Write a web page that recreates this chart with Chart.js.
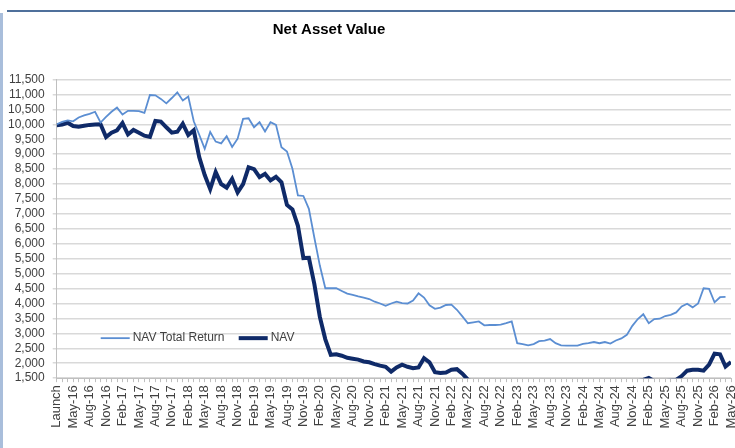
<!DOCTYPE html>
<html><head><meta charset="utf-8">
<script src="https://cdn.jsdelivr.net/npm/chart.js@4.4.0/dist/chart.umd.min.js"></script>
<style>
html,body{margin:0;padding:0;background:#fff;}
#wrap{position:relative;width:735px;height:448px;overflow:hidden;background:#fff;}
#c{position:absolute;left:0;top:0;}
.bt{position:absolute;left:7px;top:10px;width:728px;height:2px;background:#4f709b;}
.bl{position:absolute;left:0;top:13px;width:3px;height:435px;background:#a9bedb;}
</style></head>
<body><div id="wrap"><canvas id="c" width="735" height="448"></canvas><div class="bt"></div><div class="bl"></div></div>
<script>
const titleText = "Net Asset Value";
const months = [
"Launch","Mar-16","Apr-16","May-16","Jun-16","Jul-16","Aug-16","Sep-16","Oct-16","Nov-16","Dec-16",
"Jan-17","Feb-17","Mar-17","Apr-17","May-17","Jun-17","Jul-17","Aug-17","Sep-17","Oct-17","Nov-17","Dec-17",
"Jan-18","Feb-18","Mar-18","Apr-18","May-18","Jun-18","Jul-18","Aug-18","Sep-18","Oct-18","Nov-18","Dec-18",
"Jan-19","Feb-19","Mar-19","Apr-19","May-19","Jun-19","Jul-19","Aug-19","Sep-19","Oct-19","Nov-19","Dec-19",
"Jan-20","Feb-20","Mar-20","Apr-20","May-20","Jun-20","Jul-20","Aug-20","Sep-20","Oct-20","Nov-20","Dec-20",
"Jan-21","Feb-21","Mar-21","Apr-21","May-21","Jun-21","Jul-21","Aug-21","Sep-21","Oct-21","Nov-21","Dec-21",
"Jan-22","Feb-22","Mar-22","Apr-22","May-22","Jun-22","Jul-22","Aug-22","Sep-22","Oct-22","Nov-22","Dec-22",
"Jan-23","Feb-23","Mar-23","Apr-23","May-23","Jun-23","Jul-23","Aug-23","Sep-23","Oct-23","Nov-23","Dec-23",
"Jan-24","Feb-24","Mar-24","Apr-24","May-24","Jun-24","Jul-24","Aug-24","Sep-24","Oct-24","Nov-24","Dec-24",
"Jan-25","Feb-25","Mar-25","Apr-25","May-25","Jun-25","Jul-25","Aug-25","Sep-25","Oct-25","Nov-25","Dec-25",
"Jan-26","Feb-26","Mar-26","Apr-26","May-26"];
const tickLabels = ["Launch","May-16","Aug-16","Nov-16","Feb-17","May-17","Aug-17","Nov-17","Feb-18","May-18","Aug-18","Nov-18",
"Feb-19","May-19","Aug-19","Nov-19","Feb-20","May-20","Aug-20","Nov-20","Feb-21","May-21","Aug-21","Nov-21",
"Feb-22","May-22","Aug-22","Nov-22","Feb-23","May-23","Aug-23","Nov-23","Feb-24","May-24","Aug-24","Nov-24",
"Feb-25","May-25","Aug-25","Nov-25","Feb-26","May-26"];
const navTotalReturn = [
10000,10080,10130,10100,10230,10300,10350,10420,10060,10250,10420,
10560,10330,10450,10450,10440,10380,10980,10970,10850,10700,10880,11070,
10800,10930,10100,9650,9180,9740,9420,9360,9600,9240,9520,10180,
10200,9900,10070,9760,10070,9980,9230,9090,8510,7620,7600,7170,
6200,5270,4510,4510,4510,4420,4330,4290,4240,4200,4150,4060,
4000,3920,4000,4060,4010,4000,4100,4340,4200,3940,3820,3860,
3950,3960,3790,3570,3340,3370,3400,3270,3280,3280,3290,3340,
3400,2670,2640,2600,2640,2740,2760,2810,2670,2600,2590,2590,
2590,2650,2670,2710,2670,2710,2660,2760,2830,2950,3250,3480,
3640,3340,3480,3490,3580,3620,3700,3900,3990,3870,4000,4510,
4490,4040,4210,4220,null];
const nav = [
9970,9990,10050,9940,9920,9950,9980,9990,10000,9570,9720,
9800,10040,9660,9810,9720,9620,9580,10110,10090,9900,9720,9750,
10020,9640,9800,8900,8300,7830,8400,8000,7880,8170,7720,8000,
8560,8500,8230,8340,8120,8240,8060,7300,7150,6600,5520,5530,
4650,3550,2800,2280,2300,2250,2180,2150,2120,2060,2030,1970,
1920,1880,1720,1860,1950,1880,1830,1860,2170,2030,1700,1670,
1690,1780,1800,1650,1450,1350,1330,1300,1280,1270,1260,1280,
1300,1150,1130,1110,1130,1170,1190,1210,1150,1120,1110,1110,
1110,1140,1150,1170,1150,1170,1150,1210,1250,1300,1360,1400,
1440,1510,1400,1390,1400,1420,1440,1570,1750,1780,1780,1750,1950,
2320,2300,1890,2040,2040];

const FONT = "'Liberation Sans',Arial,sans-serif";

const overlay = {
  id:'overlay',
  afterDraw(chart){
    const ctx = chart.ctx, ca = chart.chartArea;
    ctx.save();
    ctx.fillStyle = '#000';
    ctx.font = "bold 15px " + FONT;
    ctx.textAlign = 'center'; ctx.textBaseline = 'middle';
    ctx.fillText(titleText, 329, 30);
    // legend inside the plot
    const ly = ca.bottom - 40;
    const offs = [44, 182];
    chart.data.datasets.forEach((ds, i) => {
      const x = ca.left + offs[i];
      ctx.strokeStyle = ds.borderColor; ctx.lineWidth = ds.borderWidth;
      ctx.beginPath(); ctx.moveTo(x, ly); ctx.lineTo(x + 29, ly); ctx.stroke();
      ctx.fillStyle = '#404040'; ctx.font = "12px " + FONT;
      ctx.textAlign = 'left';
      ctx.fillText(ds.label, x + 32, ly);
    });
    ctx.restore();
  }
};

new Chart(document.getElementById('c'), {
  type:'line',
  data:{
    labels: months,
    datasets:[
      {label:'NAV Total Return', data:navTotalReturn, borderColor:'#5b8ed2', borderWidth:1.8, pointRadius:0, tension:0, fill:false, clip:0},
      {label:'NAV', data:nav, borderColor:'#0f2a68', borderWidth:4, pointRadius:0, tension:0, fill:false, clip:0}
    ]
  },
  options:{
    responsive:false, animation:false, devicePixelRatio:1,
    layout:{padding:{left:0,right:4,top:79.5,bottom:16.5}},
    plugins:{legend:{display:false}, title:{display:false}, tooltip:{enabled:false}},
    scales:{
      x:{
        offset:false,
        afterFit:(s)=>{ s.paddingLeft = 0; s.paddingRight = 0; },
        grid:{drawOnChartArea:false, drawTicks:true, tickLength:4, color:'#bfbfbf'},
        border:{color:'#bfbfbf', width:1},
        ticks:{autoSkip:false, maxRotation:90, minRotation:90, padding:3, color:'#404040',
          font:{family:FONT, size:13},
          callback:function(v){ const l=this.getLabelForValue(v); return tickLabels.includes(l)? l : ''; }}
      },
      y:{
        min:1500, max:11500,
        grid:{color:'#d9d9d9', lineWidth:1.5, tickLength:4},
        border:{color:'#bfbfbf', width:1},
        ticks:{stepSize:500, autoSkip:false, padding:8, color:'#404040', font:{family:FONT, size:12},
          callback:v=>v.toLocaleString('en-US')}
      }
    }
  },
  plugins:[overlay]
});
</script>
</body></html>
